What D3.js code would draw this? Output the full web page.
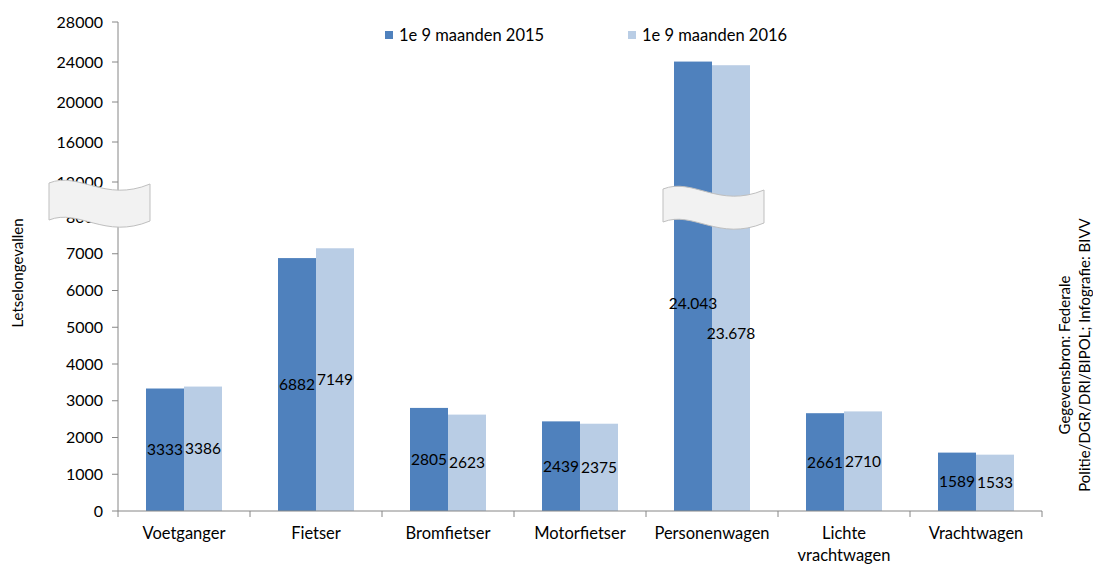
<!DOCTYPE html>
<html>
<head>
<meta charset="utf-8">
<script src="https://cdn.jsdelivr.net/npm/d3@7"></script>
<style>
  body { margin: 0; background: #fff; }
  svg { display: block; font-family: Lato, "Open Sans", sans-serif; }
</style>
</head>
<body>
<div id="chart"></div>
<script>
// data
const categories = ["Voetganger", "Fietser", "Bromfietser", "Motorfietser", "Personenwagen", "Lichte vrachtwagen", "Vrachtwagen"];
const seriesNames = ["1e 9 maanden 2015", "1e 9 maanden 2016"];
const values2015 = [3333, 6882, 2805, 2439, 24043, 2661, 1589];
const values2016 = [3386, 7149, 2623, 2375, 23678, 2710, 1533];
const lowTicks = [0, 1000, 2000, 3000, 4000, 5000, 6000, 7000, 8000];
const highTicks = [12000, 16000, 20000, 24000, 28000];
const sourceLines = ["Gegevensbron: Federale", "Politie/DGR/DRI/BIPOL; Infografie: BIVV"];

const width = 1093, height = 564;
const colors = ["#4f81bd", "#b9cde5"];
const axisColor = "#868686";

const svg = d3.select("#chart").append("svg")
    .attr("width", width)
    .attr("height", height);

// broken axis: piecewise linear scale
const y = d3.scaleLinear()
    .domain([0, 8000, 12000, 28000])
    .range([511, 217, 182, 22]);

const x = d3.scaleBand()
    .domain(categories)
    .range([118, 1042]);

const inner = d3.scaleBand()
    .domain([0, 1])
    .range([28, 104]);

const dotted = d3.formatLocale({ decimal: ",", thousands: ".", grouping: [3], currency: ["", ""] }).format(",d");
const fmt = v => v >= 10000 ? dotted(v) : String(v);

const rows = categories.map((c, i) => ({ cat: c, vals: [values2015[i], values2016[i]] }));

// bars
const groups = svg.append("g").selectAll("g")
    .data(rows)
    .join("g")
    .attr("transform", d => `translate(${x(d.cat)},0)`);

groups.selectAll("rect")
    .data(d => d.vals)
    .join("rect")
    .attr("x", (v, i) => inner(i))
    .attr("y", v => y(v))
    .attr("width", inner.bandwidth())
    .attr("height", v => y(0) - y(v))
    .attr("fill", (v, i) => colors[i]);

// y axis
svg.append("line")
    .attr("x1", 118).attr("x2", 118)
    .attr("y1", y(28000)).attr("y2", y(0))
    .attr("stroke", axisColor);

const allTicks = lowTicks.concat(highTicks);
svg.append("g").selectAll("line")
    .data(allTicks)
    .join("line")
    .attr("x1", 112).attr("x2", 118)
    .attr("y1", d => y(d)).attr("y2", d => y(d))
    .attr("stroke", axisColor);

svg.append("g").selectAll("text")
    .data(allTicks)
    .join("text")
    .attr("x", 103)
    .attr("y", d => y(d))
    .attr("dy", "0.35em")
    .attr("text-anchor", "end")
    .attr("font-size", 16)
    .attr("fill", "#000")
    .text(d => d);

// x axis
svg.append("line")
    .attr("x1", 118).attr("x2", 1042)
    .attr("y1", y(0)).attr("y2", y(0))
    .attr("stroke", axisColor);

const bounds = categories.map(c => x(c)).concat([x.range()[1]]);
svg.append("g").selectAll("line")
    .data(bounds)
    .join("line")
    .attr("x1", d => d).attr("x2", d => d)
    .attr("y1", y(0)).attr("y2", y(0) + 6)
    .attr("stroke", axisColor);

const catLabels = svg.append("g").selectAll("text")
    .data(categories)
    .join("text")
    .attr("x", d => x(d) + x.bandwidth() / 2)
    .attr("y", 539)
    .attr("text-anchor", "middle")
    .attr("font-size", 16.5)
    .attr("fill", "#000");

catLabels.each(function (d) {
    const t = d3.select(this);
    const words = d.split(" ");
    const probe = t.text(d).node().getComputedTextLength();
    t.text(null);
    if (probe > x.bandwidth() && words.length > 1) {
        words.forEach((w, i) => {
            t.append("tspan")
                .attr("x", x(d) + x.bandwidth() / 2)
                .attr("dy", i === 0 ? 0 : "1.35em")
                .text(w);
        });
    } else {
        t.text(d);
    }
});

// data labels (centred in bar; big ones pushed down a bit like the source)
groups.selectAll("text.val")
    .data(d => d.vals)
    .join("text")
    .attr("class", "val")
    .attr("x", (v, i) => inner(i) + inner.bandwidth() / 2)
    .attr("y", (v, i) => (y(v) + y(0)) / 2 + (v > 12000 ? (i === 0 ? 17 : 45) : 0))
    .attr("dy", "0.35em")
    .attr("text-anchor", "middle")
    .attr("font-size", 15.5)
    .attr("fill", "#000")
    .text(v => fmt(v));

// break markers
function wavePath(x0, y0, w, h) {
    return `M${x0},${y0}` +
        `C${x0 + w * 0.3},${y0 - 12} ${x0 + w * 0.55},${y0 + 20} ${x0 + w},${y0 + 1}` +
        `L${x0 + w},${y0 + h + 1}` +
        `C${x0 + w * 0.55},${y0 + h + 20} ${x0 + w * 0.3},${y0 + h - 12} ${x0},${y0 + h}Z`;
}

svg.append("path")
    .attr("d", wavePath(49, 183, 101, 37))
    .attr("fill", "#f2f2f2")
    .attr("stroke", "#bfbfbf");

svg.append("path")
    .attr("d", wavePath(663, 189, 101, 33))
    .attr("fill", "#f2f2f2")
    .attr("stroke", "#bfbfbf");

// legend
const legendX = [385, 628];
const legend = svg.append("g").selectAll("g")
    .data(seriesNames)
    .join("g")
    .attr("transform", (d, i) => `translate(${legendX[i]},31)`);

legend.append("rect")
    .attr("width", 8).attr("height", 8)
    .attr("fill", (d, i) => colors[i]);

legend.append("text")
    .attr("x", 14).attr("y", 4)
    .attr("dy", "0.35em")
    .attr("font-size", 16.5)
    .attr("fill", "#000")
    .text(d => d);

// y axis title
svg.append("text")
    .attr("transform", "translate(18,273) rotate(-90)")
    .attr("dy", "0.35em")
    .attr("text-anchor", "middle")
    .attr("font-size", 15)
    .attr("fill", "#000")
    .text("Letselongevallen");

// source note
svg.append("g").selectAll("text")
    .data(sourceLines)
    .join("text")
    .attr("transform", (d, i) => `translate(${1065 + i * 20},355) rotate(-90)`)
    .attr("dy", "0.35em")
    .attr("text-anchor", "middle")
    .attr("font-size", 15)
    .attr("fill", "#000")
    .text(d => d);
</script>
</body>
</html>
